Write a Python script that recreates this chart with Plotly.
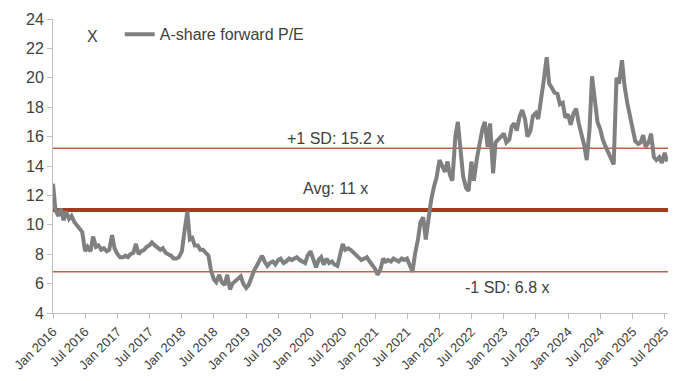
import pandas as pd
import plotly.graph_objects as go

# A-share forward P/E, semi-monthly readings starting Jan 2016
start_date = "2016-01-01"
pe_values = [
    12.8, 11.0, 10.6, 11.1, 10.3, 10.9, 10.4, 10.6, 10.2, 10.0, 9.7, 9.5,
    8.2, 8.5, 8.2, 9.2, 8.5, 8.6, 8.3, 8.4, 8.2, 8.3, 9.3, 8.4,
    8.0, 7.8, 7.8, 7.9, 7.8, 8.0, 8.1, 8.7, 8.0, 8.2, 8.3, 8.5,
    8.6, 8.8, 8.6, 8.5, 8.3, 8.4, 8.1, 8.0, 7.9, 7.7, 7.7, 7.8,
    8.2, 9.5, 10.9, 9.0, 9.1, 8.6, 8.6, 8.3, 8.3, 8.1, 7.9, 6.9,
    6.3, 6.1, 6.6, 6.1, 5.9, 6.6, 5.6, 6.0, 6.2, 6.4, 6.5, 6.0,
    5.7, 5.9, 6.5, 6.9, 7.2, 7.5, 7.9, 7.5, 7.2, 7.4, 7.5, 7.3,
    7.6, 7.7, 7.4, 7.5, 7.7, 7.6, 7.7, 7.8, 7.6, 7.5, 7.4, 7.9,
    8.2, 7.7, 7.1, 7.6, 7.8, 7.3, 7.7, 7.4, 7.5, 7.3, 7.2, 7.9,
    8.7, 8.3, 8.4, 8.3, 8.1, 7.9, 7.8, 7.6, 7.7, 7.8, 7.5, 7.3,
    7.0, 6.6, 7.0, 7.7, 7.5, 7.6, 7.5, 7.7, 7.6, 7.5, 7.7, 7.6,
    7.7, 7.2, 6.8, 8.0, 9.0, 10.2, 10.5, 9.0, 10.8, 11.7, 12.6, 13.2,
    14.4, 14.0, 13.6, 14.3, 13.4, 13.0, 16.0, 17.0, 15.0, 13.3, 12.5, 12.3,
    14.3, 13.0, 14.5, 15.5, 16.5, 17.0, 15.3, 16.9, 13.5, 15.6, 15.8, 16.0,
    16.2, 15.6, 15.8, 16.7, 16.9, 16.4, 17.4, 17.8, 17.2, 16.0, 16.4, 17.4,
    17.6, 17.2, 18.9, 19.8, 21.4, 19.6, 19.3, 19.0, 18.9, 18.2, 18.3, 17.3,
    17.5, 16.8, 17.6, 17.9, 16.9, 16.2, 15.4, 14.4, 16.5, 20.1, 18.5, 17.0,
    16.5, 15.8, 15.3, 14.9, 14.5, 14.1, 20.0, 19.6, 21.2, 19.5, 18.3, 17.4,
    16.3, 15.7, 15.5, 15.6, 16.1, 15.3, 15.6, 16.2, 14.6, 14.4, 14.6, 14.2,
    14.9, 14.3,
]
avg_pe = 11.0
plus_sd = 15.2
minus_sd = 6.8
series_name = "A-share forward P/E"
x_range = ["2016-01-01", "2025-07-20"]
y_range = [4, 24]

dates = pd.date_range(start_date, periods=len(pe_values), freq="SMS")

fig = go.Figure()

line_x = [x_range[0], x_range[1]]
fig.add_trace(go.Scatter(x=line_x, y=[plus_sd, plus_sd], mode="lines",
                         line=dict(color="#C4614A", width=1.5), showlegend=False, hoverinfo="skip"))
fig.add_trace(go.Scatter(x=line_x, y=[minus_sd, minus_sd], mode="lines",
                         line=dict(color="#C4614A", width=1.5), showlegend=False, hoverinfo="skip"))
fig.add_trace(go.Scatter(x=line_x, y=[avg_pe, avg_pe], mode="lines",
                         line=dict(color="#A63A1E", width=4), showlegend=False, hoverinfo="skip"))

fig.add_trace(go.Scatter(x=dates, y=pe_values, mode="lines", name=series_name,
                         line=dict(color="#808080", width=4)))

font_family = "Liberation Sans, Arial, sans-serif"
text_color = "#404040"

fig.update_layout(
    width=675, height=381,
    margin=dict(l=53, r=7, t=19, b=68, autoexpand=False),
    paper_bgcolor="white", plot_bgcolor="white",
    font=dict(family=font_family, size=16, color=text_color),
    showlegend=True,
    legend=dict(x=0.1085, y=0.948, xanchor="left", yanchor="middle",
                bgcolor="rgba(0,0,0,0)", font=dict(size=16, color=text_color),
                itemwidth=30, borderwidth=0),
    xaxis=dict(
        type="date", range=x_range, tick0="2016-01-01", dtick="M6",
        tickformat="%b %Y", tickangle=-45, ticks="outside", ticklen=5,
        tickcolor="#BFBFBF", showline=True, linecolor="#BFBFBF", linewidth=1,
        showgrid=False, zeroline=False, tickfont=dict(size=13, color=text_color),
    ),
    yaxis=dict(
        range=y_range, dtick=2, ticks="outside", ticklen=5, tickcolor="#BFBFBF",
        showline=True, linecolor="#BFBFBF", linewidth=1, showgrid=False,
        zeroline=False, tickfont=dict(size=16, color=text_color),
    ),
)

annots = [
    dict(x="2020-05-20", y=plus_sd, text=f"+1 SD: {plus_sd} x", yshift=10),
    dict(x="2020-05-20", y=avg_pe, text=f"Avg: {avg_pe:g} x", yshift=22),
    dict(x="2023-01-20", y=minus_sd, text=f"-1 SD: {minus_sd} x", yshift=-16),
]
for a in annots:
    fig.add_annotation(x=a["x"], y=a["y"], text=a["text"], yshift=a["yshift"],
                       showarrow=False, font=dict(size=16, color=text_color),
                       xref="x", yref="y")
fig.add_annotation(x=0.052, y=22.8, xref="paper", yref="y", text="X", showarrow=False,
                   font=dict(size=16, color=text_color))

fig.write_html("out.html", config={"displayModeBar": False},
               post_script="document.body.style.margin='0';")
